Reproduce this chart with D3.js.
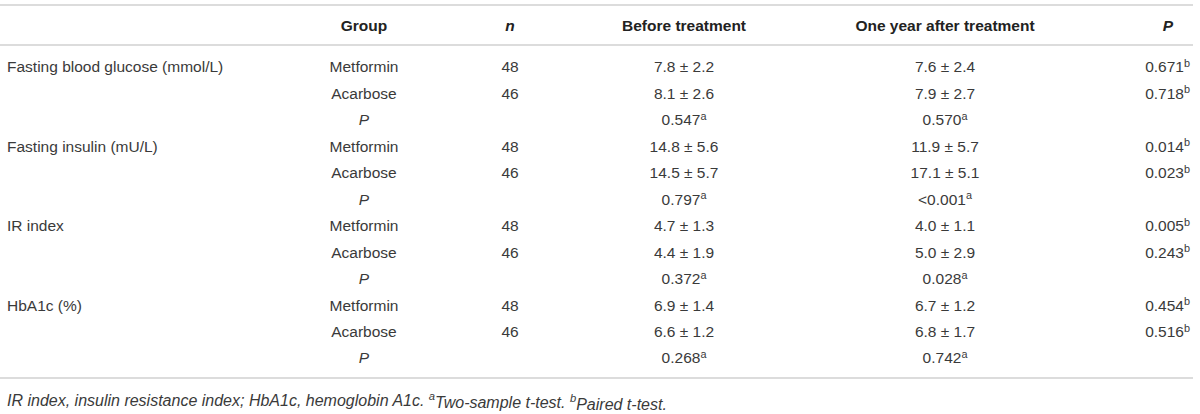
<!DOCTYPE html>
<html><head><meta charset="utf-8">
<script src="https://cdn.jsdelivr.net/npm/d3@7"></script>
<style>
body{margin:0;background:#fff;}
svg{display:block;font-family:"Liberation Sans",Arial,Helvetica,sans-serif;}
</style></head>
<body><svg id="c" width="1200" height="414"></svg>
<script>
const headers = ["", "Group", "n", "Before treatment", "One year after treatment", "P"];
const variables = ["Fasting blood glucose (mmol/L)", "Fasting insulin (mU/L)", "IR index", "HbA1c (%)"];
const groups = ["Metformin", "Acarbose", "P"];
const nValues = [48, 46, null];
const beforeVals = [
  ["7.8 ± 2.2", "8.1 ± 2.6", "0.547"],
  ["14.8 ± 5.6", "14.5 ± 5.7", "0.797"],
  ["4.7 ± 1.3", "4.4 ± 1.9", "0.372"],
  ["6.9 ± 1.4", "6.6 ± 1.2", "0.268"]
];
const afterVals = [
  ["7.6 ± 2.4", "7.9 ± 2.7", "0.570"],
  ["11.9 ± 5.7", "17.1 ± 5.1", "<0.001"],
  ["4.0 ± 1.1", "5.0 ± 2.9", "0.028"],
  ["6.7 ± 1.2", "6.8 ± 1.7", "0.742"]
];
const pVals = [
  ["0.671", "0.718", null],
  ["0.014", "0.023", null],
  ["0.005", "0.243", null],
  ["0.454", "0.516", null]
];
const footnote = "IR index, insulin resistance index; HbA1c, hemoglobin A1c. ";

const svg = d3.select("#c");
const textColor = "#3a3a3a";
const lineColor = "#dcdcdc";
const fs = 15.5;
const fsFoot = 16;

const rows = [];
variables.forEach((v, i) => {
  groups.forEach((g, j) => {
    rows.push({
      variable: j === 0 ? v : "",
      group: g,
      n: nValues[j],
      before: beforeVals[i][j],
      after: afterVals[i][j],
      p: pVals[i][j],
      isP: g === "P"
    });
  });
});

const y = d3.scalePoint().domain(d3.range(rows.length)).range([67, 358]);

const colX = {var: 7, group: 364, n: 510, before: 684, after: 945, pHead: 1173, p: 1190};

const lines = [5, 45, 378];
svg.selectAll("line.rule").data(lines).join("line")
  .attr("x1", 0).attr("x2", 1193).attr("y1", d => d).attr("y2", d => d)
  .attr("stroke", lineColor).attr("stroke-width", 2);

const hdr = svg.append("g").attr("font-weight", "bold").attr("fill", "#222").attr("font-size", fs);
const hy = 26;
hdr.append("text").attr("x", colX.group).attr("y", hy).attr("dy", "0.35em").attr("text-anchor", "middle").text(headers[1]);
hdr.append("text").attr("x", colX.n).attr("y", hy).attr("dy", "0.35em").attr("text-anchor", "middle").attr("font-style", "italic").text(headers[2]);
hdr.append("text").attr("x", colX.before).attr("y", hy).attr("dy", "0.35em").attr("text-anchor", "middle").text(headers[3]);
hdr.append("text").attr("x", colX.after).attr("y", hy).attr("dy", "0.35em").attr("text-anchor", "middle").text(headers[4]);
hdr.append("text").attr("x", colX.pHead).attr("y", hy).attr("dy", "0.35em").attr("text-anchor", "end").attr("font-style", "italic").text(headers[5]);

const body = svg.append("g").attr("fill", textColor).attr("font-size", fs);
const rg = body.selectAll("g.row").data(rows).join("g").attr("class", "row")
  .attr("transform", (d, i) => `translate(0,${y(i)})`);

rg.append("text").attr("x", colX.var).attr("dy", "0.35em").text(d => d.variable);
rg.append("text").attr("x", colX.group).attr("dy", "0.35em").attr("text-anchor", "middle")
  .attr("font-style", d => d.isP ? "italic" : null).text(d => d.group);
rg.append("text").attr("x", colX.n).attr("dy", "0.35em").attr("text-anchor", "middle").text(d => d.n == null ? "" : d.n);

function withSup(sel, key, sup, anchor, x) {
  sel.append("text").attr("x", x).attr("dy", "0.35em").attr("text-anchor", anchor)
    .each(function(d) {
      const t = d3.select(this);
      const v = d[key];
      if (v == null) return;
      t.append("tspan").text(v);
      const s = typeof sup === "function" ? sup(d) : sup;
      if (s) t.append("tspan").attr("font-size", fs * 0.7).attr("dy", "-0.5em").text(s);
    });
}
withSup(rg, "before", d => d.isP ? "a" : null, "middle", colX.before);
withSup(rg, "after", d => d.isP ? "a" : null, "middle", colX.after);
withSup(rg, "p", "b", "end", colX.p);

const ft = svg.append("text").attr("x", colX.var).attr("y", 400).attr("dy", "0.35em")
  .attr("font-size", fsFoot).attr("font-style", "italic").attr("fill", textColor);
ft.append("tspan").text(footnote);
ft.append("tspan").attr("font-size", fsFoot * 0.7).attr("dy", "-0.5em").text("a");
ft.append("tspan").attr("dy", "0.5em").text("Two-sample t-test. ");
ft.append("tspan").attr("font-size", fsFoot * 0.7).attr("dy", "-0.5em").text("b");
ft.append("tspan").attr("dy", "0.5em").text("Paired t-test.");
</script></body></html>
